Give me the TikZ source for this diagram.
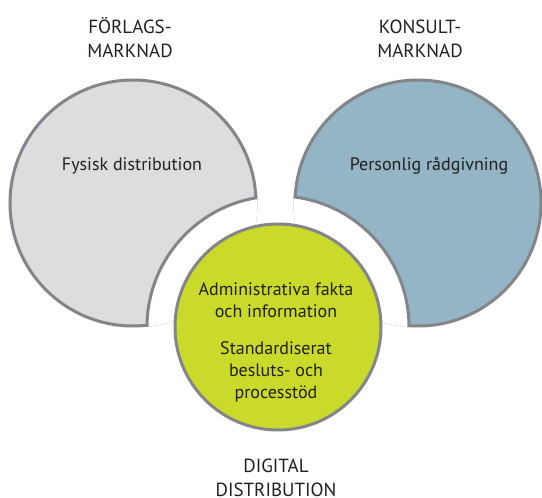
\documentclass[tikz,border=0pt]{standalone}
\usepackage{fontspec}
\setmainfont{PT Sans}
\usepackage{xcolor}
\definecolor{rimgray}{HTML}{848589}
\definecolor{forlagfill}{HTML}{DCDDDF}
\definecolor{konsultfill}{HTML}{93B5C5}
\definecolor{digitalfill}{HTML}{C9DA2A}
\definecolor{textdark}{HTML}{231F20}

\begin{document}
\begin{tikzpicture}
      [ x=1pt, y=-1pt,
        rim/.style={draw=rimgray, line width=3pt},
        heading/.style={align=center, inner sep=0pt, text=textdark,
                        font=\fontsize{19}{24}\selectfont},
        inside/.style={align=center, inner sep=0pt, text=textdark,
                       font=\fontsize{18}{21.7}\selectfont}
      ]
      \useasboundingbox (0,0) rectangle (542,498);
      \coordinate (forlag)  at (133,203);
      \coordinate (konsult) at (418,203);
      \coordinate (digital) at (278,327);

      % the two market circles
      \draw[rim, fill=forlagfill]  (forlag)  circle (123);
      \draw[rim, fill=konsultfill] (konsult) circle (123);

      % white ring round the digital circle
      \begin{scope}
        \clip (forlag) circle (124.5) (konsult) circle (124.5);
        \draw[rim, fill=white] (digital) circle (131);
      \end{scope}
      \draw[rim, fill=digitalfill] (digital) circle (103);

      % base = baseline of the last line
      \node[heading, anchor=base] (forlag_head)  at (130,57)  {FÖRLAGS-\\MARKNAD};
      \node[heading, anchor=base] (konsult_head) at (420,57)  {KONSULT-\\MARKNAD};
      \node[heading, anchor=base] (digital_head) at (276,496) {DIGITAL\\DISTRIBUTION};

      \node[inside, anchor=base] (fysisk)    at (132,170) {Fysisk distribution};
      \node[inside, anchor=base] (personlig) at (429,170) {Personlig rådgivning};
      \node[inside, anchor=base] (fakta)     at (276,317) {Administrativa fakta\\och information};
      \node[inside, anchor=base] (stod)      at (276,398) {Standardiserat\\besluts- och\\processtöd};
\end{tikzpicture}
\end{document}
